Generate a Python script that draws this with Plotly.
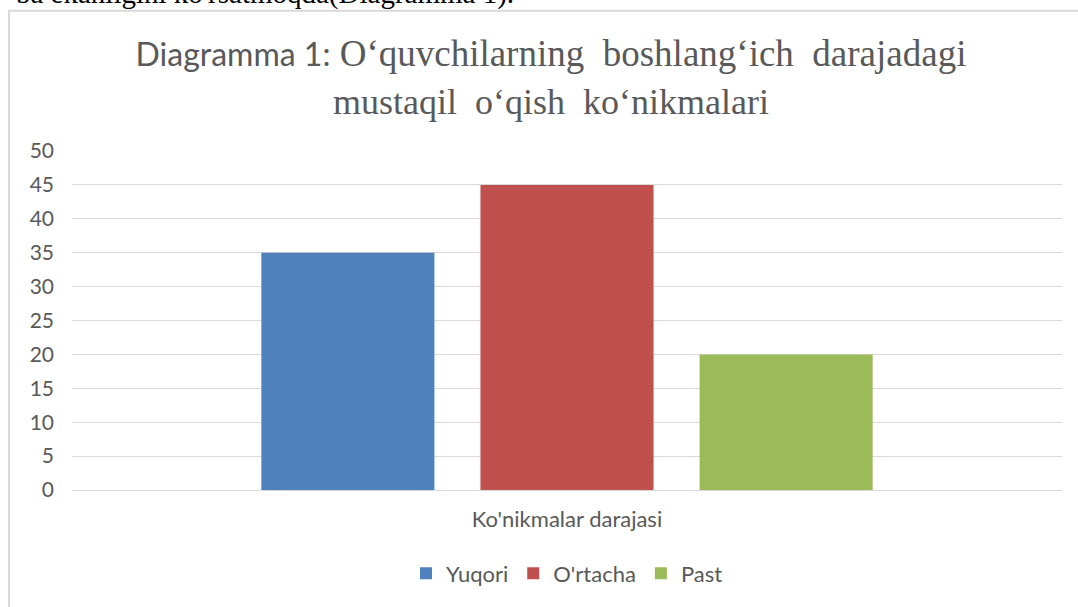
import plotly.graph_objects as go

# Data
category = ["Ko'nikmalar darajasi"]
series_names = ["Yuqori", "O'rtacha", "Past"]
series_values = [[35], [45], [20]]
series_colors = ["#4F81BD", "#C0504D", "#9BBB59"]
y_ticks = [0, 5, 10, 15, 20, 25, 30, 35, 40, 45, 50]

title_html = ("<span style='font-family:Lato;font-size:32px'>Diagramma 1:</span> "
              "O‘quvchilarning\u00a0 boshlang‘ich\u00a0 darajadagi<br>"
              "<span style='font-size:36px'>mustaqil\u00a0 o‘qish\u00a0 ko‘nikmalari</span>")
doc_text = "ba ekanligini ko'rsatmoqda(Diagramma 1)."

W, H = 1078, 607
L, R, T, B = 72, 16, 151, 115
pw, ph = W - L - R, H - T - B

def px2x(px):
    return (px - L) / pw

def py2y(py):
    return (H - B - py) / ph

fig = go.Figure()
for name, vals, col in zip(series_names, series_values, series_colors):
    fig.add_trace(go.Bar(x=category, y=vals, name=name, marker=dict(color=col, line=dict(width=0))))

fig.update_layout(
    width=W, height=H,
    margin=dict(l=L, r=R, t=T, b=B, pad=0),
    paper_bgcolor="white", plot_bgcolor="white",
    barmode="group", bargap=0.336, bargroupgap=0.21,
    font=dict(family="Lato", color="#595959", size=21),
    title=dict(text=title_html, x=551 / W, xref="container", xanchor="center",
               y=1 - 66 / H, yref="container", yanchor="middle",
               font=dict(family="Liberation Serif", size=37, color="#595959")),
    showlegend=True,
    legend=dict(orientation="h", x=0.5, xanchor="center", y=py2y(576), yanchor="middle",
                font=dict(family="Lato", size=22, color="#595959"),
                itemwidth=30, traceorder="normal"),
    xaxis=dict(showgrid=False, showline=False, ticks="", ticklabelstandoff=14,
               tickfont=dict(family="Lato", size=22, color="#595959")),
    yaxis=dict(range=[0, 50], tickvals=y_ticks, showgrid=True, gridcolor="#D9D9D9", gridwidth=1,
               zeroline=True, zerolinecolor="#D9D9D9", zerolinewidth=1, showline=False,
               ticks="", ticklabelstandoff=17,
               tickfont=dict(family="Lato", size=21, color="#595959")),
    shapes=[dict(type="rect", xref="paper", yref="paper",
                 x0=px2x(9), x1=px2x(1095), y0=py2y(630), y1=py2y(10),
                 line=dict(color="#D9D9D9", width=2), fillcolor="rgba(0,0,0,0)", layer="below")],
    annotations=[dict(text=doc_text, xref="paper", yref="paper", x=px2x(516), y=py2y(11),
                      xanchor="right", yanchor="bottom", showarrow=False,
                      font=dict(family="Liberation Serif", size=29, color="black"))],
)

fig.write_html("out.html", config={"displayModeBar": False},
               post_script="document.body.style.margin='0px';")
